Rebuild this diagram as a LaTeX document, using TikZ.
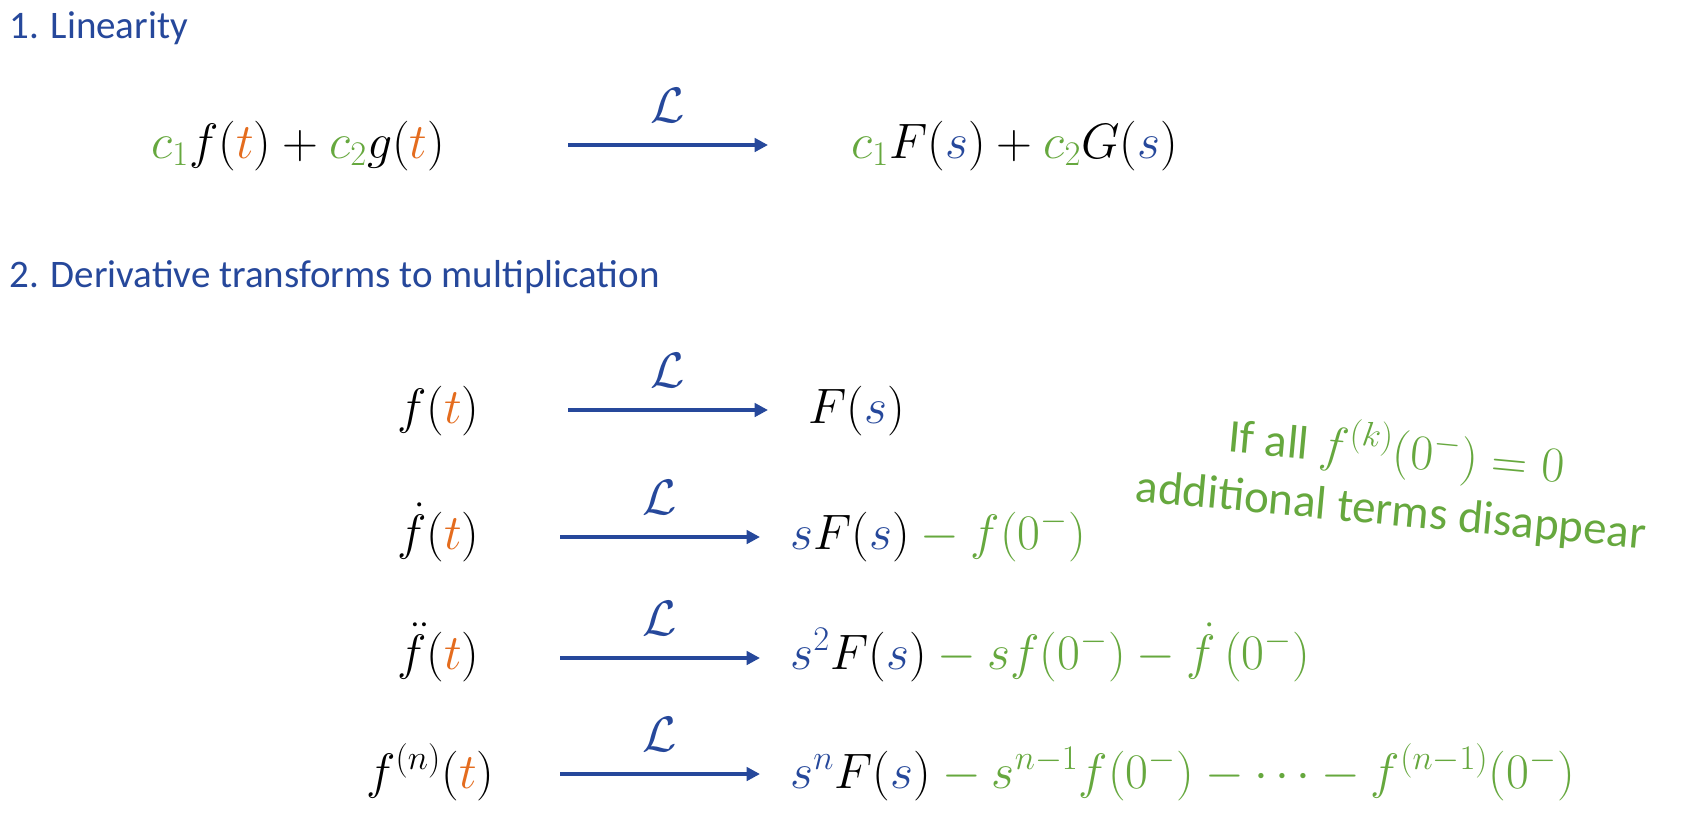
\documentclass[tikz,border=0pt]{standalone}
\usepackage{fontspec}
\setmainfont{Carlito}
\usetikzlibrary{arrows.meta}
\definecolor{tblue}{RGB}{38,72,155}
\definecolor{torange}{RGB}{228,108,30}
\definecolor{tgreen}{RGB}{102,168,62}
\newcommand{\Tor}{{\color{torange}t}}
\newcommand{\Sbl}{{\color{tblue}s}}
\newcommand{\Dts}{\mathinner{\cdotp\mkern-0.5mu\cdotp\mkern-0.5mu\cdotp}}
\tikzset{
  mth/.style={font=\fontsize{26}{30}\selectfont, inner sep=0pt, anchor=base west},
  lap/.style={-{Triangle[length=6.7pt,width=6.7pt]}, line width=2.3pt, draw=tblue},
  lab/.style={font=\fontsize{27}{30}\selectfont, text=tblue, inner sep=0pt},
  head/.style={font=\fontsize{19.5}{23}\selectfont, text=tblue, anchor=base west, inner sep=0pt},
  note/.style={font=\fontsize{23.5}{29}\selectfont, text=tgreen, inner sep=0pt, align=center}
}
\begin{document}
\begin{tikzpicture}[x=0.5pt,y=-0.5pt]
\path[use as bounding box, fill=white] (0,0) rectangle (1685,816);
% headings
\node[head] (h1) at (9,38) {1. Linearity};
\node[head] (h2) at (9,287) {2. Derivative transforms to multiplication};
% row 1
\node[mth] (l1) at (151,158) {${\color{tgreen}c_1}f(\Tor)+{\color{tgreen}c_2}g(\Tor)$};
\node[mth] (r1) at (851,158) {${\color{tgreen}c_1}F(\Sbl)+{\color{tgreen}c_2}G(\Sbl)$};
\coordinate (a1s) at (568,145); \coordinate (a1e) at (768,145);
\draw[lap] (a1s) -- node[lab, yshift=20pt] (L1) {$\mathcal{L}$} (a1e);
% row 2
\node[mth] (l2) at (397,423) {$f(\Tor)$};
\node[mth] (r2) at (808,423) {$F(\Sbl)$};
\coordinate (a2s) at (568,410); \coordinate (a2e) at (768,410);
\draw[lap] (a2s) -- node[lab, yshift=20pt] (L2) {$\mathcal{L}$} (a2e);
% row 3
\node[mth] (l3) at (397,549) {$\dot f(\Tor)$};
\node[mth] (r3) at (790,549) {${\color{tblue}s}F(\Sbl)\color{tgreen}-f(0^-)$};
\coordinate (a3s) at (560,537); \coordinate (a3e) at (760,537);
\draw[lap] (a3s) -- node[lab, yshift=20pt] (L3) {$\mathcal{L}$} (a3e);
% row 4
\node[mth] (l4) at (397,669) {$\ddot f(\Tor)$};
\node[mth] (r4) at (790,669) {${\color{tblue}s^2}F(\Sbl)\color{tgreen}-sf(0^-)-\dot f\,(0^-)$};
\coordinate (a4s) at (560,658); \coordinate (a4e) at (760,658);
\draw[lap] (a4s) -- node[lab, yshift=20pt] (L4) {$\mathcal{L}$} (a4e);
% row 5
\node[mth] (l5) at (366,788) {$f^{(n)}(\Tor)$};
\node[mth] (r5) at (790,788) {${\color{tblue}s^n}F(\Sbl)\color{tgreen}-s^{n-1}f(0^-)-\Dts-f^{(n-1)}(0^-)$};
\coordinate (a5s) at (560,774); \coordinate (a5e) at (760,774);
\draw[lap] (a5s) -- node[lab, yshift=20pt] (L5) {$\mathcal{L}$} (a5e);
% note
\node[note, rotate=-5.3] (nt) at (1394,478) {If all {\fontsize{26}{29}\selectfont$f^{(k)}(0^-)=0$}\\additional terms disappear};
\end{tikzpicture}
\end{document}
